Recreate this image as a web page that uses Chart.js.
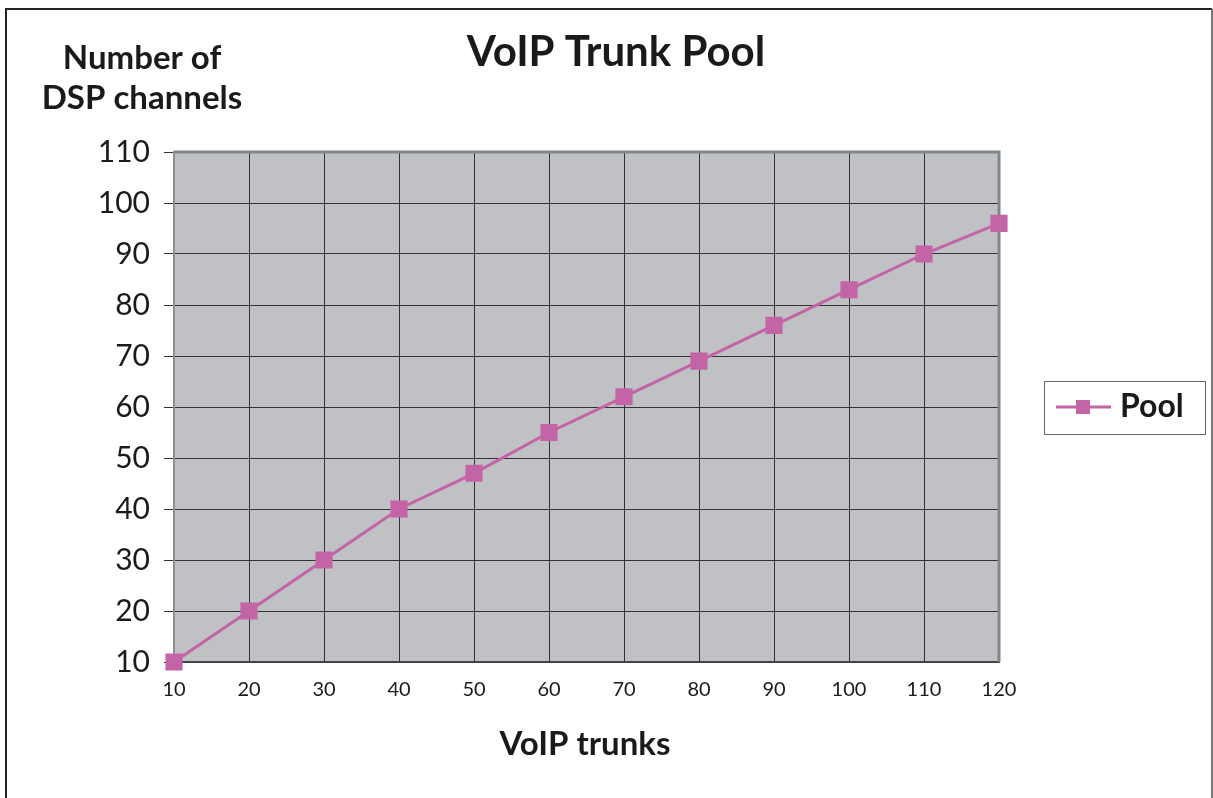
<!DOCTYPE html>
<html>
<head>
<meta charset="utf-8">
<title>VoIP Trunk Pool</title>
<script src="https://cdn.jsdelivr.net/npm/chart.js@4/dist/chart.umd.min.js"></script>
<style>
  html, body { margin: 0; padding: 0; background: #fff; }
  #wrap { width: 1213px; height: 798px; position: relative; }
</style>
</head>
<body>
<div id="wrap"><canvas id="poolChart"></canvas></div>
<script>
// VoIP trunks -> DSP channels needed in the pool
const trunks = [10, 20, 30, 40, 50, 60, 70, 80, 90, 100, 110, 120];
const dspChannels = [10, 20, 30, 40, 47, 55, 62, 69, 76, 83, 90, 96];

const FONT = 'Lato, "Open Sans", sans-serif';
const LINE_COLOR = '#c264a6';
const PLOT_BG = '#c0c1c5';

// background of the plot area, outer frame, titles and legend box
const decor = {
    id: 'decor',
    beforeDraw(chart) {
        const { ctx, chartArea: a } = chart;
        ctx.save();
        ctx.fillStyle = PLOT_BG;
        ctx.fillRect(a.left, a.top, a.right - a.left, a.bottom - a.top);
        ctx.restore();
    },
    beforeDatasetsDraw(chart) {
        const { ctx, chartArea: a } = chart;
        ctx.save();
        // grey frame on top and right edge of the plot
        ctx.strokeStyle = '#80868b';
        ctx.lineWidth = 3;
        ctx.beginPath();
        ctx.moveTo(a.left, a.top);
        ctx.lineTo(a.right, a.top);
        ctx.lineTo(a.right, a.bottom);
        ctx.stroke();
        ctx.restore();
    },
    afterDraw(chart) {
        const { ctx } = chart;
        ctx.save();
        // outer frame
        ctx.lineWidth = 2;
        ctx.strokeStyle = '#222';
        ctx.beginPath();
        ctx.moveTo(6, 798);
        ctx.lineTo(6, 9);
        ctx.lineTo(1212, 9);
        ctx.stroke();
        ctx.strokeStyle = '#777';
        ctx.beginPath();
        ctx.moveTo(1212, 9);
        ctx.lineTo(1212, 798);
        ctx.stroke();

        ctx.fillStyle = '#1a1a1a';
        ctx.textAlign = 'center';
        ctx.textBaseline = 'middle';
        ctx.font = 'bold 42px ' + FONT;
        ctx.fillText('VoIP Trunk Pool', 616, 52);

        ctx.font = 'bold 33px ' + FONT;
        ctx.fillText('Number of', 142, 58);
        ctx.fillText('DSP channels', 142, 98);
        ctx.fillText('VoIP trunks', 585, 744);

        // legend
        ctx.strokeStyle = '#666';
        ctx.lineWidth = 1;
        ctx.strokeRect(1044.5, 381.5, 161, 53);
        ctx.strokeStyle = LINE_COLOR;
        ctx.lineWidth = 3;
        ctx.beginPath();
        ctx.moveTo(1056, 407);
        ctx.lineTo(1111, 407);
        ctx.stroke();
        ctx.fillStyle = LINE_COLOR;
        ctx.fillRect(1076, 400, 14, 14);
        ctx.fillStyle = '#1a1a1a';
        ctx.textAlign = 'left';
        ctx.font = 'bold 32px ' + FONT;
        ctx.fillText(chart.data.datasets[0].label, 1120, 407);
        ctx.restore();
    }
};

new Chart(document.getElementById('poolChart'), {
    type: 'line',
    data: {
        datasets: [{
            label: 'Pool',
            data: trunks.map((t, i) => ({ x: t, y: dspChannels[i] })),
            borderColor: LINE_COLOR,
            backgroundColor: LINE_COLOR,
            borderWidth: 3,
            pointStyle: 'rect',
            pointRadius: 10,
            pointHoverRadius: 10,
            tension: 0,
            clip: false,
        }],
    },
    options: {
        responsive: true,
        maintainAspectRatio: false,
        animation: false,
        layout: { padding: { left: 0, top: 152, right: 214, bottom: 86 } },
        plugins: {
            legend: { display: false },
            title: { display: false },
            tooltip: { enabled: false },
        },
        scales: {
            x: {
                type: 'linear',
                min: 10,
                max: 120,
                afterFit: s => { s.height = 50; },
                ticks: {
                    stepSize: 10,
                    color: '#1a1a1a',
                    font: { family: FONT, size: 20 },
                    padding: 16,
                },
                grid: { color: '#333', lineWidth: 1, drawTicks: false },
                border: { color: '#444', width: 2 },
            },
            y: {
                min: 10,
                max: 110,
                afterFit: s => { s.width = 174; },
                ticks: {
                    stepSize: 10,
                    color: '#1a1a1a',
                    font: { family: FONT, size: 30 },
                    padding: 14,
                },
                grid: { color: '#333', lineWidth: 1, tickLength: 10 },
                border: { color: '#8a8f94', width: 2 },
            },
        },
    },
    plugins: [decor],
});
</script>
</body>
</html>
